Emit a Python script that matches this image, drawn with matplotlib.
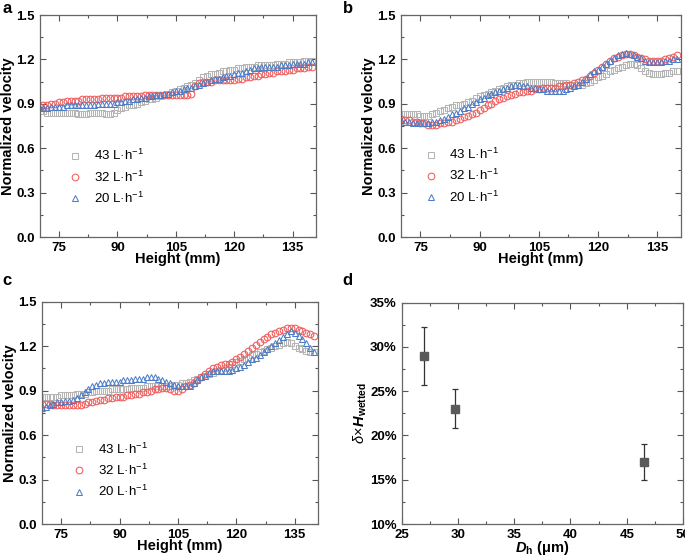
import matplotlib
matplotlib.use('Agg')
import matplotlib.pyplot as plt
import numpy as np
from matplotlib.ticker import MultipleLocator, FuncFormatter

plt.rcParams['font.family'] = ['Liberation Sans', 'DejaVu Sans']
plt.rcParams['mathtext.fontset'] = 'custom'
plt.rcParams['mathtext.rm'] = 'Liberation Sans'
plt.rcParams['mathtext.it'] = 'Liberation Sans:italic'
plt.rcParams['mathtext.bf'] = 'Liberation Sans:bold'
plt.rcParams['mathtext.bfit'] = 'Liberation Sans:bold:italic'

# heights (mm) where the velocity was sampled
height = np.arange(70, 141, 1.0)

flow_labels = ['43 L·h$^{-1}$', '32 L·h$^{-1}$', '20 L·h$^{-1}$']

# panel a
a_43 = [0.85, 0.85, 0.84, 0.84, 0.84, 0.84, 0.84, 0.84, 0.84, 0.84,
        0.83, 0.83, 0.83, 0.84, 0.84, 0.84, 0.84, 0.83, 0.83, 0.84,
        0.86, 0.87, 0.88, 0.89, 0.89, 0.90, 0.91, 0.92, 0.93, 0.93,
        0.94, 0.95, 0.96, 0.97, 0.98, 0.99, 1.00, 1.01, 1.02, 1.03,
        1.04, 1.06, 1.08, 1.09, 1.10, 1.10, 1.11, 1.12, 1.12, 1.13,
        1.13, 1.14, 1.14, 1.15, 1.15, 1.15, 1.16, 1.16, 1.16, 1.16,
        1.16, 1.17, 1.17, 1.17, 1.18, 1.18, 1.18, 1.18, 1.19, 1.19,
        1.19]
a_32 = [0.88, 0.89, 0.89, 0.90, 0.90, 0.91, 0.91, 0.92, 0.92, 0.92,
        0.92, 0.93, 0.93, 0.93, 0.93, 0.93, 0.94, 0.94, 0.94, 0.94,
        0.94, 0.94, 0.95, 0.95, 0.95, 0.95, 0.95, 0.96, 0.96, 0.96,
        0.96, 0.96, 0.96, 0.96, 0.96, 0.96, 0.96, 0.96, 0.96, 0.97,
        1.02, 1.04, 1.05, 1.05, 1.05, 1.06, 1.06, 1.06, 1.06, 1.06,
        1.06, 1.07, 1.07, 1.08, 1.08, 1.09, 1.09, 1.10, 1.10, 1.11,
        1.11, 1.12, 1.12, 1.12, 1.13, 1.13, 1.14, 1.14, 1.14, 1.15,
        1.15]
a_20 = [0.87, 0.87, 0.87, 0.88, 0.88, 0.88, 0.88, 0.89, 0.89, 0.89,
        0.89, 0.89, 0.89, 0.89, 0.89, 0.90, 0.90, 0.90, 0.90, 0.90,
        0.91, 0.91, 0.92, 0.92, 0.93, 0.93, 0.94, 0.94, 0.95, 0.95,
        0.96, 0.96, 0.97, 0.97, 0.98, 0.99, 0.99, 1.00, 1.01, 1.01,
        1.02, 1.03, 1.04, 1.05, 1.06, 1.07, 1.07, 1.08, 1.09, 1.09,
        1.10, 1.11, 1.11, 1.12, 1.13, 1.14, 1.14, 1.15, 1.15, 1.15,
        1.15, 1.15, 1.16, 1.16, 1.16, 1.17, 1.17, 1.17, 1.17, 1.18,
        1.18]

# panel b
b_43 = [0.83, 0.83, 0.83, 0.83, 0.83, 0.82, 0.82, 0.82, 0.83, 0.84,
        0.85, 0.86, 0.87, 0.88, 0.89, 0.89, 0.90, 0.91, 0.92, 0.94,
        0.95, 0.96, 0.97, 0.98, 0.99, 1.00, 1.01, 1.02, 1.03, 1.03,
        1.04, 1.04, 1.05, 1.05, 1.05, 1.05, 1.05, 1.05, 1.05, 1.04,
        1.04, 1.04, 1.04, 1.03, 1.03, 1.03, 1.03, 1.04, 1.05, 1.06,
        1.08, 1.09, 1.10, 1.12, 1.13, 1.14, 1.15, 1.16, 1.17, 1.17,
        1.16, 1.14, 1.12, 1.11, 1.10, 1.10, 1.10, 1.11, 1.11, 1.12,
        1.12]
b_32 = [0.80, 0.79, 0.79, 0.78, 0.78, 0.77, 0.77, 0.76, 0.76, 0.76,
        0.77, 0.77, 0.78, 0.78, 0.79, 0.80, 0.81, 0.82, 0.83, 0.84,
        0.86, 0.87, 0.89, 0.90, 0.92, 0.93, 0.94, 0.95, 0.96, 0.97,
        0.98, 0.98, 0.99, 0.99, 1.00, 1.00, 1.01, 1.01, 1.01, 1.01,
        1.02, 1.02, 1.03, 1.03, 1.04, 1.05, 1.06, 1.07, 1.09, 1.11,
        1.13, 1.15, 1.17, 1.19, 1.21, 1.22, 1.23, 1.24, 1.24, 1.23,
        1.22, 1.21, 1.20, 1.19, 1.19, 1.19, 1.19, 1.20, 1.21, 1.22,
        1.23]
b_20 = [0.79, 0.78, 0.78, 0.77, 0.77, 0.77, 0.77, 0.77, 0.78, 0.78,
        0.79, 0.80, 0.81, 0.83, 0.84, 0.85, 0.87, 0.88, 0.90, 0.91,
        0.93, 0.94, 0.96, 0.97, 0.98, 0.99, 1.00, 1.01, 1.02, 1.03,
        1.03, 1.02, 1.02, 1.01, 1.01, 1.00, 1.00, 0.99, 0.99, 0.99,
        0.99, 0.99, 1.00, 1.01, 1.02, 1.03, 1.05, 1.07, 1.10, 1.12,
        1.13, 1.15, 1.17, 1.19, 1.21, 1.23, 1.24, 1.245, 1.24, 1.23,
        1.22, 1.21, 1.19, 1.18, 1.18, 1.18, 1.18, 1.19, 1.19, 1.20,
        1.20]

# panel c
c_43 = [0.86, 0.86, 0.86, 0.86, 0.86, 0.87, 0.87, 0.87, 0.87, 0.88,
        0.88, 0.88, 0.89, 0.89, 0.90, 0.90, 0.90, 0.90, 0.91, 0.91,
        0.91, 0.91, 0.91, 0.92, 0.92, 0.92, 0.92, 0.93, 0.93, 0.93,
        0.93, 0.93, 0.93, 0.93, 0.94, 0.94, 0.95, 0.95, 0.96, 0.97,
        0.98, 0.99, 1.00, 1.01, 1.02, 1.03, 1.04, 1.05, 1.06, 1.08,
        1.09, 1.10, 1.11, 1.12, 1.14, 1.15, 1.16, 1.17, 1.18, 1.19,
        1.20, 1.21, 1.22, 1.23, 1.22, 1.20, 1.19, 1.18, 1.17, 1.16,
        1.16]
c_32 = [0.81, 0.81, 0.81, 0.80, 0.80, 0.80, 0.80, 0.80, 0.80, 0.80,
        0.80, 0.81, 0.82, 0.82, 0.83, 0.84, 0.84, 0.85, 0.85, 0.86,
        0.86, 0.86, 0.87, 0.87, 0.88, 0.88, 0.89, 0.89, 0.90, 0.91,
        0.91, 0.92, 0.92, 0.91, 0.90, 0.90, 0.91, 0.93, 0.94, 0.95,
        0.97, 0.99, 1.01, 1.03, 1.05, 1.06, 1.07, 1.08, 1.08, 1.09,
        1.11, 1.13, 1.15, 1.17, 1.19, 1.21, 1.23, 1.25, 1.26, 1.28,
        1.29, 1.30, 1.31, 1.32, 1.32, 1.32, 1.31, 1.30, 1.29, 1.28,
        1.27]
c_20 = [0.78, 0.79, 0.80, 0.81, 0.82, 0.82, 0.83, 0.83, 0.84, 0.85,
        0.87, 0.89, 0.91, 0.93, 0.94, 0.95, 0.95, 0.96, 0.96, 0.96,
        0.96, 0.97, 0.97, 0.97, 0.98, 0.98, 0.98, 0.99, 0.99, 0.99,
        0.98, 0.97, 0.96, 0.95, 0.94, 0.93, 0.93, 0.93, 0.93, 0.95,
        0.97, 0.99, 1.00, 1.02, 1.03, 1.03, 1.03, 1.03, 1.03, 1.04,
        1.05, 1.06, 1.07, 1.09, 1.11, 1.12, 1.14, 1.16, 1.18, 1.20,
        1.22, 1.24, 1.26, 1.28, 1.30, 1.29, 1.27, 1.25, 1.22, 1.19,
        1.16]

# panel d
dh = [27.0, 29.7, 46.5]
wetted = [29.0, 23.0, 17.0]
wetted_err = [3.25, 2.2, 2.0]

marker_styles = [('s', '#b5b5b5'), ('o', '#f05a5a'), ('^', '#4d7dc8')]
tick_color = '#555555'


def style_axis(ax):
    for sp in ax.spines.values():
        sp.set_color('#666666')
        sp.set_linewidth(0.9)
    ax.tick_params(which='both', direction='in', top=True, right=True,
                   color=tick_color, width=0.8, labelsize=9.5, pad=3.5)
    ax.tick_params(which='major', length=4)
    ax.tick_params(which='minor', length=2)
    for lbl in ax.get_xticklabels() + ax.get_yticklabels():
        lbl.set_fontweight('bold')


def plot_velocity(ax, series, legend_xy):
    handles = []
    for vals, (m, c), lab in zip(series, marker_styles, flow_labels):
        h, = ax.plot(height, vals, linestyle='none', marker=m, markersize=4.8,
                     markerfacecolor='none', markeredgecolor=c,
                     markeredgewidth=0.75, label=lab)
        handles.append(h)
    ax.set_xlim(70, 141)
    ax.set_ylim(0, 1.5)
    ax.xaxis.set_major_locator(MultipleLocator(15))
    ax.xaxis.set_minor_locator(MultipleLocator(7.5))
    ax.yaxis.set_major_locator(MultipleLocator(0.3))
    ax.yaxis.set_minor_locator(MultipleLocator(0.15))
    ax.yaxis.set_major_formatter(FuncFormatter(lambda v, p: f'{v:.1f}'))
    style_axis(ax)
    ax.set_xlabel('Height (mm)', fontsize=10.5, fontweight='bold', labelpad=-1)
    ax.set_ylabel('Normalized velocity', fontsize=10.5, fontweight='bold', labelpad=1)
    ax.legend(handles=handles, loc='upper left', bbox_to_anchor=legend_xy,
              frameon=False, fontsize=9.5, handlelength=1.0, handletextpad=0.9,
              labelspacing=0.45, borderpad=0, borderaxespad=0)


fig = plt.figure(figsize=(6.85, 5.59), dpi=100)
ax_a = fig.add_axes([0.0577, 0.576, 0.4036, 0.397])
ax_b = fig.add_axes([0.585, 0.576, 0.409, 0.397])
ax_c = fig.add_axes([0.0609, 0.0626, 0.4034, 0.3977])
ax_d = fig.add_axes([0.5864, 0.0626, 0.4107, 0.3959])

plot_velocity(ax_a, [a_43, a_32, a_20], (0.105, 0.40))
plot_velocity(ax_b, [b_43, b_32, b_20], (0.083, 0.405))
plot_velocity(ax_c, [c_43, c_32, c_20], (0.112, 0.37))

ax_d.errorbar(dh, wetted, yerr=wetted_err, fmt='s', color='#5a5a5a',
              markersize=6, ecolor='#333333', elinewidth=0.9, capsize=2,
              capthick=0.9)
ax_d.set_xlim(25, 50)
ax_d.set_ylim(10, 35)
ax_d.xaxis.set_major_locator(MultipleLocator(5))
ax_d.xaxis.set_minor_locator(MultipleLocator(2.5))
ax_d.yaxis.set_major_locator(MultipleLocator(5))
ax_d.yaxis.set_minor_locator(MultipleLocator(2.5))
ax_d.yaxis.set_major_formatter(FuncFormatter(lambda v, p: f'{v:.0f}%'))
style_axis(ax_d)
ax_d.set_xlabel(r'$\mathbfit{D}_{\mathbf{h}}$ (μm)', fontsize=10.5,
                fontweight='bold', labelpad=-1)
ax_d.set_ylabel(r'$\delta\!\times\!\mathbfit{H}_{\mathbf{wetted}}$',
                fontsize=10.5, labelpad=1)

for lx, ly, letter in [(0.004, 0.998, 'a'), (0.5, 0.998, 'b'),
                       (0.004, 0.512, 'c'), (0.5, 0.512, 'd')]:
    fig.text(lx, ly, letter, fontsize=12, fontweight='bold', va='top', ha='left')

fig.savefig('out.png', dpi=100)
